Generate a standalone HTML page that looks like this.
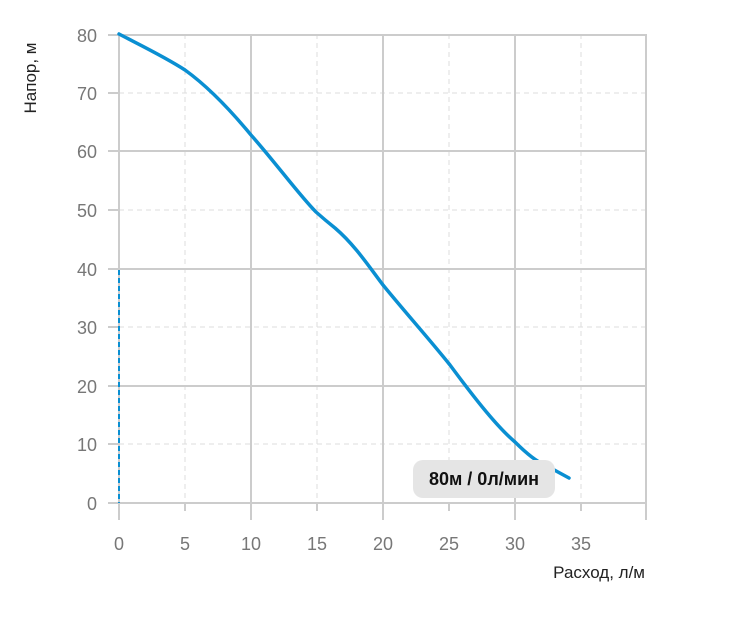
<!DOCTYPE html><html><head><meta charset="utf-8"><style>body{margin:0;background:#fff}</style></head><body>
<svg width="738" height="612" xmlns="http://www.w3.org/2000/svg" font-family="Liberation Sans, sans-serif">
<g stroke="#ddd" stroke-width="1" stroke-dasharray="5,4">
<line x1="119" y1="93" x2="647" y2="93"/><line x1="119" y1="210" x2="647" y2="210"/><line x1="119" y1="327" x2="647" y2="327"/><line x1="119" y1="444" x2="647" y2="444"/>
<line x1="185" y1="34" x2="185" y2="503"/><line x1="317" y1="34" x2="317" y2="503"/><line x1="449" y1="34" x2="449" y2="503"/><line x1="581" y1="34" x2="581" y2="503"/>
</g>
<g stroke="#ccc" stroke-width="2">
<line x1="108" y1="35" x2="647" y2="35"/><line x1="108" y1="151" x2="647" y2="151"/><line x1="108" y1="269" x2="647" y2="269"/><line x1="108" y1="386" x2="647" y2="386"/><line x1="108" y1="503" x2="647" y2="503"/>
<line x1="108" y1="93" x2="119" y2="93"/><line x1="108" y1="210" x2="119" y2="210"/><line x1="108" y1="327" x2="119" y2="327"/><line x1="108" y1="444" x2="119" y2="444"/>
<line x1="119" y1="34" x2="119" y2="520"/><line x1="251" y1="34" x2="251" y2="520"/><line x1="383" y1="34" x2="383" y2="520"/><line x1="515" y1="34" x2="515" y2="520"/><line x1="646" y1="34" x2="646" y2="520"/>
<line x1="185" y1="503" x2="185" y2="511"/><line x1="317" y1="503" x2="317" y2="511"/><line x1="449" y1="503" x2="449" y2="511"/><line x1="581" y1="503" x2="581" y2="511"/>
</g>
<g fill="#777" font-size="18" text-anchor="end">
<text x="97" y="42">80</text><text x="97" y="100">70</text><text x="97" y="158">60</text><text x="97" y="217">50</text><text x="97" y="276">40</text><text x="97" y="334">30</text><text x="97" y="393">20</text><text x="97" y="451">10</text><text x="97" y="510">0</text>
</g>
<g fill="#777" font-size="18" text-anchor="middle">
<text x="119" y="550">0</text><text x="185" y="550">5</text><text x="251" y="550">10</text><text x="317" y="550">15</text><text x="383" y="550">20</text><text x="449" y="550">25</text><text x="515" y="550">30</text><text x="581" y="550">35</text>
</g>
<text x="645" y="578" font-size="17" fill="#222" text-anchor="end">Расход, л/м</text>
<text transform="translate(36,78) rotate(-90)" font-size="17" fill="#222" text-anchor="middle">Напор, м</text>
<line x1="119" y1="270" x2="119" y2="503" stroke="#0a8fd2" stroke-width="2" stroke-dasharray="5,3"/>
<path d="M119,34 C140,45 165,57 185,70 C210,88 232,112 251,135 C275,162 300,196 316,212 C325,220 330,224 335,228 C355,245 370,268 383,285 C405,312 430,340 450,365 C470,392 495,425 515,442 C525,452 535,461 545,465 L569,478" fill="none" stroke="#0a8fd2" stroke-width="3.5" stroke-linecap="round"/>
<rect x="413" y="460" width="142" height="38" rx="10" fill="#e5e5e5"/>
<text x="484" y="485" font-size="18" font-weight="bold" fill="#111" text-anchor="middle">80м / 0л/мин</text>
</svg>
</body></html>
